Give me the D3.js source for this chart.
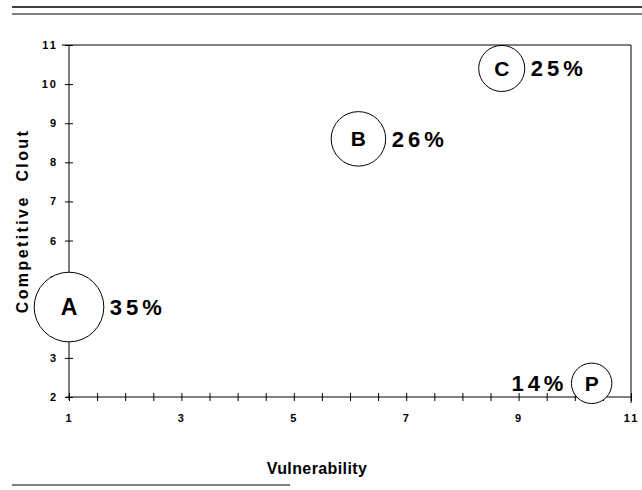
<!DOCTYPE html>
<html>
<head>
<meta charset="utf-8">
<script src="https://cdn.jsdelivr.net/npm/d3@7"></script>
<style>
  html, body { margin: 0; padding: 0; background: #fff; }
  svg { display: block; font-family: "Liberation Sans", Arial, sans-serif; }
</style>
</head>
<body>
<div id="chart"></div>
<script>
// Bubble data
const brands = ["A", "B", "C", "P"];
const vulnerability = [1.0, 6.15, 8.7, 10.3];
const clout = [4.3, 8.6, 10.4, 2.35];
const shareLabels = ["35%", "26%", "25%", "14%"];
const bubbleDiameter = [1.24, 0.97, 0.82, 0.72]; // in vulnerability units

const xTicks = d3.range(1, 11.01, 0.5);
const xTickLabels = [1, 3, 5, 7, 9, 11];
const yTicks = [2, 3, 4, 5, 6, 7, 8, 9, 10, 11];

const width = 642, height = 490;

const svg = d3.select("#chart").append("svg")
  .attr("width", width)
  .attr("height", height);

const x = d3.scaleLinear().domain([1, 11]).range([69, 631]);
const y = d3.scaleLinear().domain([2, 11]).range([397, 45]);

// top double rule and bottom rule
svg.append("line").attr("x1", 12).attr("x2", 642).attr("y1", 7).attr("y2", 7)
  .attr("stroke", "#000").attr("stroke-width", 1.6);
svg.append("line").attr("x1", 12).attr("x2", 642).attr("y1", 14).attr("y2", 14)
  .attr("stroke", "#000").attr("stroke-width", 1.2);
svg.append("line").attr("x1", 12).attr("x2", 290).attr("y1", 485).attr("y2", 485)
  .attr("stroke", "#000").attr("stroke-width", 1.2);

// frame top + right
svg.append("line").attr("x1", x(1) - 7).attr("x2", x(11)).attr("y1", y(11)).attr("y2", y(11))
  .attr("stroke", "#000").attr("stroke-width", 1);
svg.append("line").attr("x1", x(11)).attr("x2", x(11)).attr("y1", y(11)).attr("y2", y(2) + 6)
  .attr("stroke", "#000").attr("stroke-width", 1);

// x axis
const xAxis = svg.append("g")
  .attr("transform", `translate(0,${y(2)})`)
  .call(d3.axisBottom(x)
    .tickValues(xTicks)
    .tickSize(4)
    .tickFormat(d => xTickLabels.includes(d) ? d : ""));
xAxis.select(".domain").attr("d", `M${x(1) - 3},0H${x(11)}`).attr("stroke", "#000");
xAxis.selectAll(".tick line").attr("y1", -4).attr("y2", 4).attr("stroke", "#000");
xAxis.selectAll(".tick text")
  .attr("y", 17)
  .attr("dy", "0.71em")
  .attr("font-size", 11)
  .attr("font-weight", "bold")
  .attr("letter-spacing", 2)
  .attr("font-family", "'Liberation Sans', Arial, sans-serif")
  .attr("fill", "#000");

// y axis
const yAxis = svg.append("g")
  .attr("transform", `translate(${x(1)},0)`)
  .call(d3.axisLeft(y)
    .tickValues(yTicks)
    .tickSize(4));
yAxis.select(".domain").attr("d", `M0,${y(11)}V${y(2) + 3}`).attr("stroke", "#000");
yAxis.selectAll(".tick line").attr("x1", -4).attr("x2", 4).attr("stroke", "#000");
yAxis.selectAll(".tick text")
  .attr("x", -11)
  .attr("font-size", 11)
  .attr("font-weight", "bold")
  .attr("letter-spacing", 2)
  .attr("font-family", "'Liberation Sans', Arial, sans-serif")
  .attr("fill", "#000");

// axis titles
svg.append("text")
  .attr("transform", `translate(28,${(y(11) + y(2)) / 2}) rotate(-90)`)
  .attr("text-anchor", "middle")
  .attr("font-size", 16)
  .attr("font-weight", "bold")
  .attr("letter-spacing", 2.4)
  .attr("xml:space", "preserve")
  .style("white-space", "pre")
  .text("Competitive  Clout");

svg.append("text")
  .attr("x", 317)
  .attr("y", 474)
  .attr("text-anchor", "middle")
  .attr("font-size", 16)
  .attr("font-weight", "bold")
  .attr("letter-spacing", 0.4)
  .text("Vulnerability");

// bubbles
const data = brands.map((b, i) => ({
  brand: b,
  vx: vulnerability[i],
  cy: clout[i],
  share: shareLabels[i],
  d: bubbleDiameter[i]
}));

const rOf = d => (x(1 + d.d) - x(1)) / 2;

const g = svg.append("g").selectAll("g")
  .data(data)
  .join("g")
  .attr("transform", d => `translate(${x(d.vx)},${y(d.cy)})`);

g.append("circle")
  .attr("r", rOf)
  .attr("fill", "#fff")
  .attr("stroke", "#000")
  .attr("stroke-width", 1);

g.append("text")
  .attr("text-anchor", "middle")
  .attr("dy", "0.36em")
  .attr("font-size", d => d.brand === "A" ? 23 : 21)
  .attr("font-weight", "bold")
  .text(d => d.brand);

g.append("text")
  .attr("x", d => d.brand === "P" ? -rOf(d) - 4 : rOf(d) + 6)
  .attr("dy", "0.36em")
  .attr("text-anchor", d => d.brand === "P" ? "end" : "start")
  .attr("font-size", 22)
  .attr("font-weight", "bold")
  .attr("letter-spacing", 4)
  .text(d => d.share);
</script>
</body>
</html>
